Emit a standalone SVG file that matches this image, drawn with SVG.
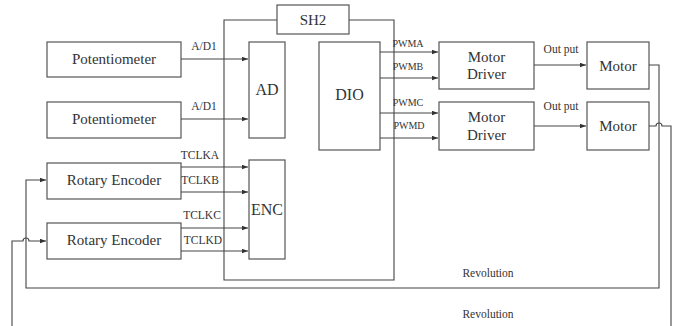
<svg xmlns="http://www.w3.org/2000/svg" width="677" height="326" viewBox="0 0 677 326">
<style>
.box{fill:#fff;stroke:#555;stroke-width:1.2}
.ln{fill:none;stroke:#444;stroke-width:1.1}
.t{font-family:"Liberation Serif","Times New Roman","DejaVu Serif",serif;fill:#333;text-anchor:middle}
.n{font-size:15px}
.b{font-size:16px}
.s{font-size:11.5px}
.p{font-size:10px}
</style>
<defs>
<marker id="ah" viewBox="0 0 8 6" refX="8" refY="3" markerWidth="6" markerHeight="5" orient="auto" markerUnits="userSpaceOnUse">
<path d="M0,0 L8,3 L0,6 z" fill="#333"/>
</marker>
</defs>
<rect width="677" height="326" fill="#fff"/>
<g id="sh2">
<path class="ln" d="M277,20 H224 V280 H394 V20 H349"/>
<rect class="box" x="277" y="5" width="72" height="29"/>
<text class="t n" x="313" y="25">SH2</text>
</g>
<g id="pot1"><rect class="box" x="47" y="42" width="134" height="35"/><text class="t n" x="114" y="64">Potentiometer</text></g>
<g id="pot2"><rect class="box" x="47" y="102" width="134" height="36"/><text class="t n" x="114" y="124">Potentiometer</text></g>
<g id="enc1"><rect class="box" x="47" y="163" width="134" height="36"/><text class="t n" x="114" y="185">Rotary Encoder</text></g>
<g id="enc2"><rect class="box" x="47" y="223" width="134" height="36"/><text class="t n" x="114" y="245">Rotary Encoder</text></g>
<g id="ad"><rect class="box" x="249" y="42" width="36" height="96"/><text class="t b" x="267" y="95">AD</text></g>
<g id="encb"><rect class="box" x="249" y="160" width="36" height="99"/><text class="t b" x="267" y="215">ENC</text></g>
<g id="dio"><rect class="box" x="319" y="42" width="61" height="108"/><text class="t b" x="349.5" y="100">DIO</text></g>
<g id="md1"><rect class="box" x="439" y="42" width="95" height="47"/><text class="t n" x="486.5" y="62">Motor</text><text class="t n" x="486.5" y="79">Driver</text></g>
<g id="md2"><rect class="box" x="439" y="102" width="95" height="48"/><text class="t n" x="486.5" y="122">Motor</text><text class="t n" x="486.5" y="140">Driver</text></g>
<g id="m1"><rect class="box" x="587" y="42" width="62" height="47"/><text class="t n" x="618" y="71">Motor</text></g>
<g id="m2"><rect class="box" x="587" y="102" width="62" height="48"/><text class="t n" x="618" y="131">Motor</text></g>
<g id="connectors">
<path class="ln" marker-end="url(#ah)" d="M181,59 H248"/>
<path class="ln" marker-end="url(#ah)" d="M181,119 H248"/>
<path class="ln" marker-end="url(#ah)" d="M181,167 H248"/>
<path class="ln" marker-end="url(#ah)" d="M181,192 H248"/>
<path class="ln" marker-end="url(#ah)" d="M181,228 H248"/>
<path class="ln" marker-end="url(#ah)" d="M181,251 H248"/>
<path class="ln" marker-end="url(#ah)" d="M380,52 H438"/>
<path class="ln" marker-end="url(#ah)" d="M380,78 H438"/>
<path class="ln" marker-end="url(#ah)" d="M380,113 H438"/>
<path class="ln" marker-end="url(#ah)" d="M380,138 H438"/>
<path class="ln" marker-end="url(#ah)" d="M534,65 H586"/>
<path class="ln" marker-end="url(#ah)" d="M534,126 H586"/>
<path class="ln" marker-end="url(#ah)" d="M649,65 H659 V288 H26 V180 H46"/>
<path class="ln" d="M649,126 H656 A3,3 0 0 1 662,126 H671 V326"/>
<path class="ln" marker-end="url(#ah)" d="M12,326 V241 H23 A3,3 0 0 1 29,241 H46"/>
</g>
<g id="labels">
<text class="t s" x="204" y="50">A/D1</text>
<text class="t s" x="204" y="110">A/D1</text>
<text class="t s" x="200" y="159">TCLKA</text>
<text class="t s" x="200" y="184">TCLKB</text>
<text class="t s" x="202" y="219">TCLKC</text>
<text class="t s" x="203" y="244">TCLKD</text>
<text class="t p" x="408" y="47">PWMA</text>
<text class="t p" x="408" y="70">PWMB</text>
<text class="t p" x="408" y="106">PWMC</text>
<text class="t p" x="409" y="129">PWMD</text>
<text class="t s" x="561" y="53">Out put</text>
<text class="t s" x="561" y="110">Out put</text>
<text class="t s" x="488" y="277">Revolution</text>
<text class="t s" x="488" y="318">Revolution</text>
</g>
</svg>
